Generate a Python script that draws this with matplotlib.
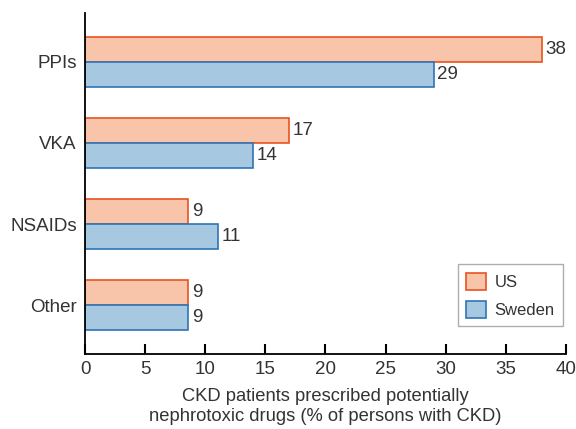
import matplotlib.pyplot as plt
import numpy as np

plt.rcParams["font.family"] = ["Liberation Sans", "DejaVu Sans"]

categories = ["PPIs", "VKA", "NSAIDs", "Other"]
us = [38.0, 17.0, 8.6, 8.6]
sweden = [29.0, 14.0, 11.1, 8.6]
us_labels = ["38", "17", "9", "9"]
sweden_labels = ["29", "14", "11", "9"]
xticks = [0, 5, 10, 15, 20, 25, 30, 35, 40]

TEXT = "#333333"
US_FILL, US_EDGE = "#f8c4aa", "#e8541e"
SE_FILL, SE_EDGE = "#a6c8e1", "#2f74b5"

fig = plt.figure(figsize=(5.76, 4.29), dpi=100)
ax = fig.add_axes([0.1476, 0.1748, 0.835, 0.795])

y = np.arange(len(categories))
h = 0.31
b1 = ax.barh(y - h / 2, us, height=h, color=US_FILL, edgecolor=US_EDGE, lw=1.2, label="US")
b2 = ax.barh(y + h / 2, sweden, height=h, color=SE_FILL, edgecolor=SE_EDGE, lw=1.2, label="Sweden")

for bars, labels in [(b1, us_labels), (b2, sweden_labels)]:
    for bar, lab in zip(bars, labels):
        ax.text(bar.get_width() + 0.3, bar.get_y() + bar.get_height() / 2, lab,
                va="center", ha="left", fontsize=13.5, color=TEXT)

ax.set_ylim(3.6, -0.6)
ax.set_xlim(0, 40)
ax.set_yticks(y)
ax.set_yticklabels(categories, fontsize=13.5, color=TEXT)
ax.tick_params(axis="y", length=0, pad=6)
ax.set_xticks(xticks)
ax.set_xticklabels([str(t) for t in xticks], fontsize=13.5, color=TEXT)
ax.tick_params(axis="x", direction="in", length=7, width=1.5, pad=5)
for s in ["top", "right"]:
    ax.spines[s].set_visible(False)
for s in ["left", "bottom"]:
    ax.spines[s].set_linewidth(1.3)

ax.set_xlabel("CKD patients prescribed potentially\nnephrotoxic drugs (% of persons with CKD)",
              fontsize=13.2, color=TEXT, labelpad=7, linespacing=1.25)

leg = ax.legend(loc="lower right", bbox_to_anchor=(0.994, 0.082), fontsize=12,
                fancybox=False, edgecolor="#999999", handlelength=1.2, handleheight=1.2,
                handletextpad=0.5, labelspacing=0.65,
                labelcolor=TEXT, borderpad=0.5, borderaxespad=0)
leg.get_frame().set_linewidth(1.0)

fig.savefig("out.png", dpi=100)
